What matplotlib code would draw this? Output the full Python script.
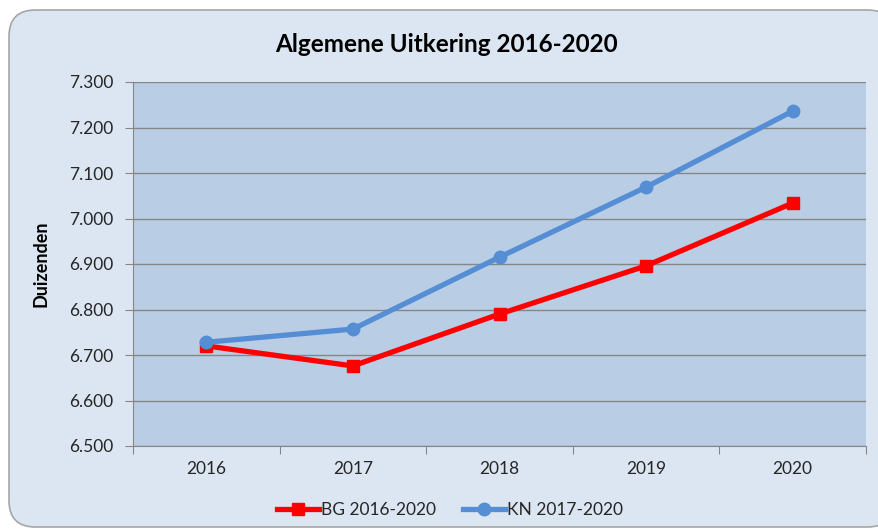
import matplotlib.pyplot as plt
from matplotlib.patches import FancyBboxPatch
from matplotlib.ticker import FuncFormatter, FixedLocator

# Data (in duizenden)
jaren = ['2016', '2017', '2018', '2019', '2020']
bg = [6720, 6676, 6790, 6896, 7034]
kn = [6728, 6757, 6915, 7069, 7236]

plt.rcParams['font.family'] = ['Lato', 'DejaVu Sans']

fig = plt.figure(figsize=(8.79, 5.31), dpi=100)
fig.patch.set_facecolor('white')

# afgeronde achtergrond van de grafiek
bg_box = FancyBboxPatch((9 / 879, 4 / 531), 885 / 879, 517 / 531,
                        boxstyle='round,pad=0,rounding_size=0.03',
                        transform=fig.transFigure, facecolor='#dce6f2',
                        edgecolor='#a6a6a6', linewidth=1.2, zorder=-5,
                        mutation_aspect=879 / 531)
fig.patches.append(bg_box)

ax = fig.add_axes([133 / 879, 1 - 446 / 531, 733 / 879, 364 / 531])
ax.set_zorder(1)
ax.set_facecolor('#b9cde5')

x = range(len(jaren))
ax.plot(x, bg, color='#ff0000', linewidth=3.8, marker='s', markersize=9,
        label='BG 2016-2020', zorder=3)
ax.plot(x, kn, color='#558ed5', linewidth=3.8, marker='o', markersize=9,
        label='KN 2017-2020', zorder=4)

ax.set_xlim(-0.5, 4.5)
ax.set_ylim(6500, 7300)
ax.set_yticks(range(6500, 7301, 100))
ax.yaxis.set_major_formatter(FuncFormatter(lambda v, p: f'{v:,.0f}'.replace(',', '.')))
ax.yaxis.grid(True, color='#868686', linewidth=1)
ax.set_axisbelow(True)

# categorie-labels in het midden, tickmarks ertussen
ax.xaxis.set_major_locator(FixedLocator([-0.5, 0.5, 1.5, 2.5, 3.5, 4.5]))
ax.xaxis.set_major_formatter(FuncFormatter(lambda v, p: ''))
ax.xaxis.set_minor_locator(FixedLocator(list(x)))
ax.set_xticks(list(x), jaren, minor=True)
ax.tick_params(axis='x', which='major', length=6, color='#868686')
ax.tick_params(axis='x', which='minor', length=0, pad=11, labelsize=12.5, labelcolor='#262626')
ax.tick_params(axis='y', length=6, color='#868686', labelsize=12.5, labelcolor='#262626', pad=8)

for s in ['top', 'right']:
    ax.spines[s].set_visible(False)
ax.spines['left'].set_color('#868686')
ax.spines['bottom'].set_color('#868686')

ax.set_ylabel('Duizenden', fontsize=13, fontweight='bold', labelpad=14)
fig.text(446 / 879, 1 - 44 / 531, 'Algemene Uitkering 2016-2020', ha='center', va='center',
         fontsize=17.5, fontweight='bold')

fig.legend(loc='center', bbox_to_anchor=(450 / 879, 1 - 510 / 531), ncol=2, frameon=False,
           fontsize=12.5, handlelength=2.4, handletextpad=0.1, columnspacing=1.6,
           labelcolor='#262626')

plt.savefig('out.png', dpi=100)
